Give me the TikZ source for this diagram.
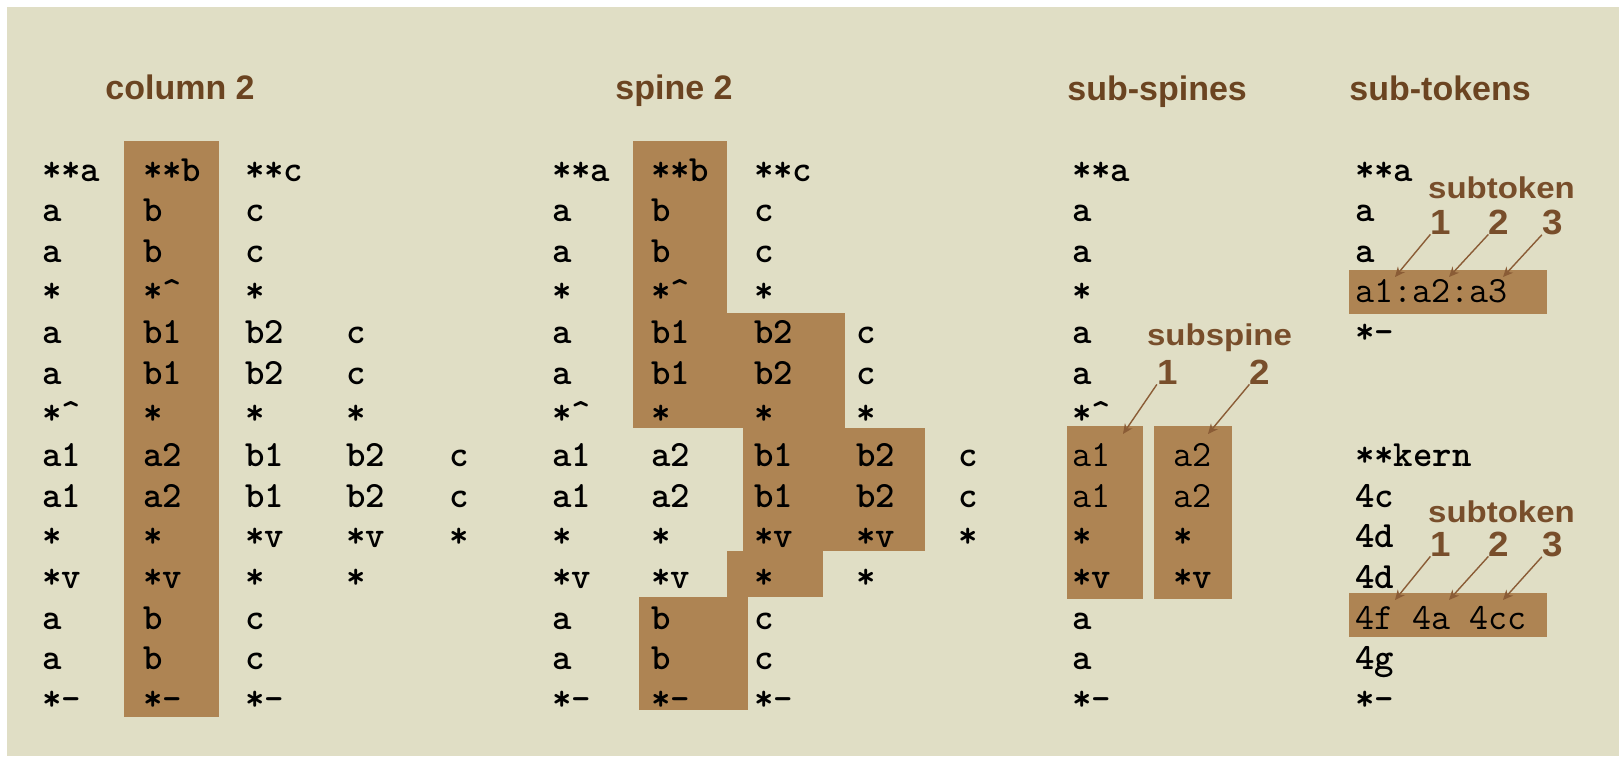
\documentclass[tikz,border=0pt]{standalone}
\usepackage{fontspec}
\setmainfont{Liberation Sans}
\usetikzlibrary{arrows.meta}
\definecolor{bgbeige}{RGB}{224,222,197}
\definecolor{boxbrown}{RGB}{174,132,83}
\definecolor{ttlbrown}{RGB}{107,68,33}
\definecolor{labbrown}{RGB}{120,78,43}
\definecolor{arrbrown}{RGB}{138,92,54}
\newcommand\tokfont{\fontsize{18.5pt}{18.5pt}\selectfont\ttfamily\bfseries}
\newcommand\tokfontr{\fontsize{18.5pt}{18.5pt}\selectfont\ttfamily}
\newcommand\ttlfont{\fontsize{17pt}{17pt}\selectfont\bfseries}
\newcommand\labfont{\fontsize{15pt}{15pt}\selectfont\bfseries}
\newcommand\digfont{\fontsize{17.5pt}{17.5pt}\selectfont\bfseries}
\newcommand\up{\textasciicircum}
\newcommand\widelab[1]{\scalebox{1.1}[1]{#1}}
\newcommand\widedig[1]{\scalebox{1.05}[1]{#1}}
\newcommand\tkn[4]{\node[tok] (#1) at (#2,#3) {#4};}
\newcommand\tkr[4]{\node[tokr] (#1) at (#2,#3) {#4};}
\newcommand\colpanel[6]{%
 \tkn{#1-1-1}{#2}{181}{**a}\tkn{#1-1-2}{#3}{181}{**b}\tkn{#1-1-3}{#4}{181}{**c}
 \tkn{#1-2-1}{#2}{221}{a}\tkn{#1-2-2}{#3}{221}{b}\tkn{#1-2-3}{#4}{221}{c}
 \tkn{#1-3-1}{#2}{262}{a}\tkn{#1-3-2}{#3}{262}{b}\tkn{#1-3-3}{#4}{262}{c}
 \tkn{#1-4-1}{#2}{302}{*}\tkn{#1-4-2}{#3}{302}{*\up}\tkn{#1-4-3}{#4}{302}{*}
 \tkn{#1-5-1}{#2}{343}{a}\tkn{#1-5-2}{#3}{343}{b1}\tkn{#1-5-3}{#4}{343}{b2}\tkn{#1-5-4}{#5}{343}{c}
 \tkn{#1-6-1}{#2}{384}{a}\tkn{#1-6-2}{#3}{384}{b1}\tkn{#1-6-3}{#4}{384}{b2}\tkn{#1-6-4}{#5}{384}{c}
 \tkn{#1-7-1}{#2}{424}{*\up}\tkn{#1-7-2}{#3}{424}{*}\tkn{#1-7-3}{#4}{424}{*}\tkn{#1-7-4}{#5}{424}{*}
 \tkn{#1-8-1}{#2}{466}{a1}\tkn{#1-8-2}{#3}{466}{a2}\tkn{#1-8-3}{#4}{466}{b1}\tkn{#1-8-4}{#5}{466}{b2}\tkn{#1-8-5}{#6}{466}{c}
 \tkn{#1-9-1}{#2}{507}{a1}\tkn{#1-9-2}{#3}{507}{a2}\tkn{#1-9-3}{#4}{507}{b1}\tkn{#1-9-4}{#5}{507}{b2}\tkn{#1-9-5}{#6}{507}{c}
 \tkn{#1-10-1}{#2}{547}{*}\tkn{#1-10-2}{#3}{547}{*}\tkn{#1-10-3}{#4}{547}{*v}\tkn{#1-10-4}{#5}{547}{*v}\tkn{#1-10-5}{#6}{547}{*}
 \tkn{#1-11-1}{#2}{588}{*v}\tkn{#1-11-2}{#3}{588}{*v}\tkn{#1-11-3}{#4}{588}{*}\tkn{#1-11-4}{#5}{588}{*}
 \tkn{#1-12-1}{#2}{629}{a}\tkn{#1-12-2}{#3}{629}{b}\tkn{#1-12-3}{#4}{629}{c}
 \tkn{#1-13-1}{#2}{669}{a}\tkn{#1-13-2}{#3}{669}{b}\tkn{#1-13-3}{#4}{669}{c}
 \tkn{#1-14-1}{#2}{710}{*-}\tkn{#1-14-2}{#3}{710}{*-}\tkn{#1-14-3}{#4}{710}{*-}
}
\tikzset{
 tok/.style={anchor=base west, inner sep=0pt, outer sep=0pt, font=\tokfont},
 tokr/.style={tok, font=\tokfontr},
 ttl/.style={anchor=base west, inner sep=0pt, font=\ttlfont, text=ttlbrown},
 lab/.style={anchor=base, inner sep=0pt, font=\labfont, text=labbrown},
 dig/.style={anchor=base, inner sep=0pt, font=\digfont, text=labbrown},
 hl/.style={fill=boxbrown},
 arr/.style={draw=arrbrown, line width=0.7pt, -{Stealth[length=5pt,width=4.5pt]}}
}
\begin{document}
\begin{tikzpicture}[x=0.5pt,y=-0.5pt]
\useasboundingbox (0,0) rectangle (1619,756);
\fill[white] (0,0) rectangle (1619,756);
\fill[bgbeige] (7,7) rectangle (1619,756);
% titles
\node[ttl] (t1) at (105,99) {column 2};
\node[ttl] (t2) at (615,99) {spine 2};
\node[ttl] (t3) at (1067,100) {sub-spines};
\node[ttl] (t4) at (1349,100) {sub-tokens};
% highlight boxes
\fill[hl] (124,141) rectangle (219,717);
\fill[hl] (633,141) rectangle (727,313);
\fill[hl] (633,313) rectangle (845,428);
\fill[hl] (743,428) rectangle (925,551);
\fill[hl] (727,551) rectangle (823,597);
\fill[hl] (639,597) rectangle (748,710);
\fill[hl] (1067,426) rectangle (1143,599);
\fill[hl] (1154,426) rectangle (1232,599);
\fill[hl] (1349,270) rectangle (1547,314);
\fill[hl] (1349,593) rectangle (1547,637);
% panels 1 and 2
\colpanel{pa}{42}{143}{245}{346}{449}
\colpanel{pb}{552}{651}{754}{856}{958}
% panel 3
\tkn{pc-1}{1072}{181}{**a}
\tkn{pc-2}{1072}{221}{a}
\tkn{pc-3}{1072}{262}{a}
\tkn{pc-4}{1072}{302}{*}
\tkn{pc-5}{1072}{343}{a}
\tkn{pc-6}{1072}{384}{a}
\tkn{pc-7}{1072}{424}{*\up}
\tkr{pc-8-1}{1072}{466}{a1}\tkr{pc-8-2}{1173}{466}{a2}
\tkr{pc-9-1}{1072}{507}{a1}\tkr{pc-9-2}{1173}{507}{a2}
\tkn{pc-10-1}{1072}{547}{*}\tkn{pc-10-2}{1173}{547}{*}
\tkn{pc-11-1}{1072}{588}{*v}\tkn{pc-11-2}{1173}{588}{*v}
\tkn{pc-12}{1072}{629}{a}
\tkn{pc-13}{1072}{669}{a}
\tkn{pc-14}{1072}{710}{*-}
% panel 4
\tkn{pd-1}{1355}{181}{**a}
\tkn{pd-2}{1355}{221}{a}
\tkn{pd-3}{1355}{262}{a}
\tkr{pd-4}{1355}{302}{a1:a2:a3}
\tkn{pd-5}{1355}{343}{*-}
\tkn{pd-8}{1355}{466}{**kern}
\tkn{pd-9}{1355}{507}{4c}
\tkn{pd-10}{1355}{547}{4d}
\tkn{pd-11}{1355}{588}{4d}
\tkr{pd-12}{1355}{629}{4f 4a 4cc}
\tkn{pd-13}{1355}{669}{4g}
\tkn{pd-14}{1355}{710}{*-}
% subspine labels
\node[lab] (ls) at (1219.5,345) {\widelab{subspine}};
\node[dig] (ls1) at (1167.5,384) {\widedig{1}};
\node[dig] (ls2) at (1260,384) {\widedig{2}};
\coordinate (ls1t) at (1123,434);
\coordinate (ls2t) at (1208,434);
\draw[arr] (ls1.south west) -- (ls1t);
\draw[arr] (ls2.south west) -- (ls2t);
% subtoken labels (upper)
\node[lab] (lt) at (1501.5,198) {\widelab{subtoken}};
\node[dig] (lt1) at (1441,234) {\widedig{1}};
\node[dig] (lt2) at (1499,234) {\widedig{2}};
\node[dig] (lt3) at (1552.5,234) {\widedig{3}};
\coordinate (lt1t) at (1395,277);
\coordinate (lt2t) at (1449,277);
\coordinate (lt3t) at (1503,277);
\draw[arr] (lt1.south west) -- (lt1t);
\draw[arr] (lt2.south west) -- (lt2t);
\draw[arr] (lt3.south west) -- (lt3t);
% subtoken labels (lower)
\node[lab] (lu) at (1501.5,522) {\widelab{subtoken}};
\node[dig] (lu1) at (1441,556) {\widedig{1}};
\node[dig] (lu2) at (1499,556) {\widedig{2}};
\node[dig] (lu3) at (1552.5,556) {\widedig{3}};
\coordinate (lu1t) at (1395,600);
\coordinate (lu2t) at (1449,600);
\coordinate (lu3t) at (1503,600);
\draw[arr] (lu1.south west) -- (lu1t);
\draw[arr] (lu2.south west) -- (lu2t);
\draw[arr] (lu3.south west) -- (lu3t);
\end{tikzpicture}
\end{document}
